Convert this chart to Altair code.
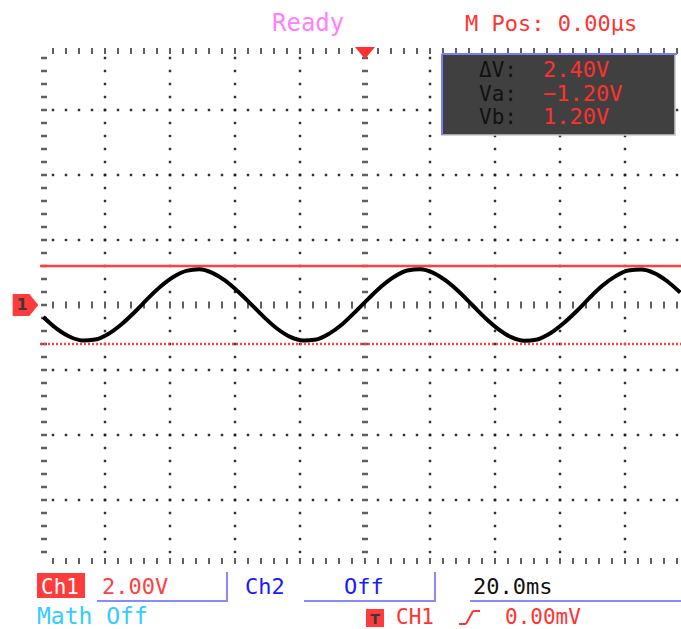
import altair as alt
import pandas as pd

# ---- readings -------------------------------------------------------------
# CH1 trace: time (ms) and voltage (V)
TRACE_T = [-99, -95, -91, -87, -83, -79, -75, -71, -67, -63, -59, -55, -51,
           -47, -43, -39, -35, -31, -27, -23, -19, -15, -11, -7, -3, 1, 5,
           9, 13, 17, 21, 25, 29, 33, 37, 41, 45, 49, 53, 57, 61, 65, 69,
           73, 77, 81, 85, 89, 93, 97]
TRACE_V = [-0.37, -0.72, -0.97, -1.09, -1.06, -0.89, -0.60, -0.23, 0.18,
           0.56, 0.86, 1.05, 1.10, 0.99, 0.75, 0.41, 0.02, -0.38, -0.73,
           -0.98, -1.09, -1.06, -0.88, -0.59, -0.21, 0.19, 0.57, 0.87, 1.06,
           1.10, 0.99, 0.74, 0.40, 0.00, -0.40, -0.74, -0.99, -1.10, -1.06,
           -0.87, -0.57, -0.20, 0.21, 0.59, 0.88, 1.06, 1.09, 0.98, 0.73,
           0.38]

# cursor readout
READOUT_NAMES = ["\u0394V:", "Va:", "Vb:"]
VA = -1.20
VB = 1.20
DELTA_V = VB - VA

# status texts
STATUS = "Ready"
MPOS_US = 0.00
CH1_SCALE = "2.00V"
CH2_STATE = "Off"
TIMEBASE = "20.0ms"
MATH_STATE = "Math Off"
TRIG_SOURCE = "CH1"
TRIG_LEVEL = "0.00mV"

# ---- screen geometry ------------------------------------------------------
W, H = 681, 629
X0, Y0, PX_DIV = 365, 305, 65      # screen centre and pixels per division
MS_DIV, V_DIV = 20.0, 2.0          # time base and CH1 volts per division


def t_at(px):
    return (px - X0) / PX_DIV * MS_DIV


def v_at(py):
    return (Y0 - py) / PX_DIV * V_DIV


xs = alt.Scale(domain=[t_at(0), t_at(W)], nice=False, zero=False)
ys = alt.Scale(domain=[v_at(H), v_at(0)], nice=False, zero=False)
X = lambda f="t": alt.X(f"{f}:Q", scale=xs, axis=None)
Y = lambda f="v": alt.Y(f"{f}:Q", scale=ys, axis=None)

MINOR_T = MS_DIV / 5
MINOR_V = V_DIV / 5
INK = "#1c1c1c"

# graticule dots
dots = []
for k in range(-4, 5):
    if k == 0:
        continue
    for m in range(-19, 20):
        if m != 0:
            dots.append({"t": k * MS_DIV, "v": m * MINOR_V})
for j in range(-3, 4):
    if j == 0:
        continue
    for n in range(-24, 25):
        if n != 0:
            dots.append({"t": n * MINOR_T, "v": j * V_DIV})
dots_df = pd.DataFrame(dots)

# vertical dashes: top edge, bottom edge, centre row
vd_edge = pd.DataFrame(
    [{"t": n * MINOR_T, "v": v_at(py)} for py in (51, 561) for n in range(-24, 25)]
)
vd_mid = pd.DataFrame([{"t": n * MINOR_T, "v": 0.0} for n in range(-24, 25)])
# horizontal dashes: left edge, centre column
hd = pd.DataFrame(
    [{"t": t_at(44), "v": m * MINOR_V} for m in range(-19, 20)]
    + [{"t": 0.0, "v": m * MINOR_V} for m in range(-19, 20) if m != 0]
)

one = pd.DataFrame({"a": [0]})
layers = []

layers.append(alt.Chart(dots_df).mark_square(size=6, color=INK, opacity=0.9)
              .encode(x=X(), y=Y()))
layers.append(alt.Chart(vd_edge).mark_tick(orient="vertical", size=6, thickness=2,
                                           color=INK).encode(x=X(), y=Y()))
layers.append(alt.Chart(vd_mid).mark_tick(orient="vertical", size=7, thickness=2,
                                          color=INK).encode(x=X(), y=Y()))
layers.append(alt.Chart(hd).mark_tick(orient="horizontal", size=6, thickness=2.5,
                                      color=INK).encode(x=X(), y=Y()))

# cursor readout panel
layers.append(alt.Chart(one).mark_rect(color="#404040", stroke="#c8c8c8",
                                       strokeWidth=1.5)
              .encode(x=alt.value(442), x2=alt.value(675),
                      y=alt.value(54), y2=alt.value(135)))
layers.append(alt.Chart(one).mark_rule(color="#7c7cff", strokeWidth=2)
              .encode(x=alt.value(442), x2=alt.value(677),
                      y=alt.value(54), y2=alt.value(54)))
layers.append(alt.Chart(one).mark_rule(color="#7c7cff", strokeWidth=2)
              .encode(x=alt.value(442), x2=alt.value(442),
                      y=alt.value(54), y2=alt.value(135)))

# cursors Vb (solid) and Va (dotted)
layers.append(alt.Chart(pd.DataFrame({"v": [VB]}))
              .mark_rule(color="#ff4040", strokeWidth=2.5)
              .encode(y=Y(), x=alt.value(40), x2=alt.value(W)))
layers.append(alt.Chart(pd.DataFrame({"v": [VA]}))
              .mark_rule(color="#ff4040", strokeWidth=2.5, strokeDash=[2, 2])
              .encode(y=Y(), x=alt.value(40), x2=alt.value(W)))

# CH1 waveform
trace = pd.DataFrame({"t": TRACE_T, "v": TRACE_V})
layers.append(alt.Chart(trace).mark_line(color="#000000", strokeWidth=4,
                                         interpolate="monotone")
              .encode(x=X(), y=Y()))

# channel ground marker and trigger position marker
layers.append(alt.Chart(pd.DataFrame({"v": [0.0]}))
              .mark_point(shape="M-1,-0.86L0.3,-0.86L1,0L0.3,0.86L-1,0.86Z",
                          size=660, filled=True, color="#ff3b3b", opacity=1)
              .encode(x=alt.value(25.5), y=Y()))
layers.append(alt.Chart(pd.DataFrame({"v": [0.0]}))
              .mark_text(text="1", font="DejaVu Sans", fontSize=16,
                         fontWeight="bold", color="#3a3a3a", baseline="middle")
              .encode(x=alt.value(22), y=Y()))
layers.append(alt.Chart(pd.DataFrame({"t": [MPOS_US / 1000.0]}))
              .mark_point(shape="M-1,-0.6L1,-0.6L0,0.6Z", size=400, filled=True,
                          color="#ff3030", opacity=1)
              .encode(x=X(), y=alt.value(53)))


def label(text, x, y, color, size, font="DejaVu Sans Mono", align="left",
          weight="normal"):
    return (alt.Chart(one)
            .mark_text(text=text, font=font, fontSize=size, color=color,
                       align=align, baseline="alphabetic", fontWeight=weight)
            .encode(x=alt.value(x), y=alt.value(y)))


def rule(x1, y1, x2, y2, color, w=2):
    return (alt.Chart(one).mark_rule(color=color, strokeWidth=w)
            .encode(x=alt.value(x1), y=alt.value(y1),
                    x2=alt.value(x2), y2=alt.value(y2)))


# header
layers.append(label(STATUS, 272, 31, "#ff80ff", 24))
layers.append(label(f"M Pos: {MPOS_US:.2f}\u00b5s", 465, 31, "#ff3333", 22))

# readout text
for i, (name, val) in enumerate(zip(READOUT_NAMES, [DELTA_V, VA, VB])):
    yb = 77 + i * 23.5
    layers.append(label(name, 479, yb, "#121212", 21))
    txt = f"{val:.2f}V".replace("-", "\u2212")
    layers.append(label(txt, 543, yb, "#ff3030", 22))

# footer
layers.append(alt.Chart(one).mark_rect(color="#ff3b3b")
              .encode(x=alt.value(37), x2=alt.value(85),
                      y=alt.value(573), y2=alt.value(598)))
layers.append(label("Ch1", 41, 594, "#ffffff", 21))
layers.append(label(CH1_SCALE, 102, 594, "#ff4040", 22))
layers.append(label("Ch2", 245, 594, "#1a1aff", 22))
layers.append(label(CH2_STATE, 344, 594, "#1a1aff", 22))
layers.append(label(TIMEBASE, 473, 594, "#111111", 22))

UL = "#8a8aff"
layers.append(rule(97, 601, 228, 601, UL))
layers.append(rule(227, 572, 227, 601, UL))
layers.append(rule(304, 601, 436, 601, UL))
layers.append(rule(435, 572, 435, 601, UL))
layers.append(rule(470, 601, W, 601, UL))

layers.append(label(MATH_STATE, 37, 624, "#33ccff", 23))
layers.append(alt.Chart(one).mark_rect(color="#ff3b3b")
              .encode(x=alt.value(366), x2=alt.value(384),
                      y=alt.value(609), y2=alt.value(627)))
layers.append(label("T", 375, 624, "#3a3a3a", 14, font="DejaVu Sans",
                    align="center", weight="bold"))
layers.append(label(TRIG_SOURCE, 396, 624, "#ff3333", 21))
layers.append(rule(459, 624, 466, 624, "#ff3333"))
layers.append(rule(466, 624, 473, 611, "#ff3333"))
layers.append(rule(473, 611, 480, 611, "#ff3333"))
layers.append(label(TRIG_LEVEL, 505, 624, "#ff3333", 21))

chart = (alt.layer(*layers)
         .properties(width=W, height=H, padding=0, autosize="none",
                     background="#ffffff")
         .configure_view(stroke=None))

chart.save("out.html", embed_options={"renderer": "svg", "actions": False})
